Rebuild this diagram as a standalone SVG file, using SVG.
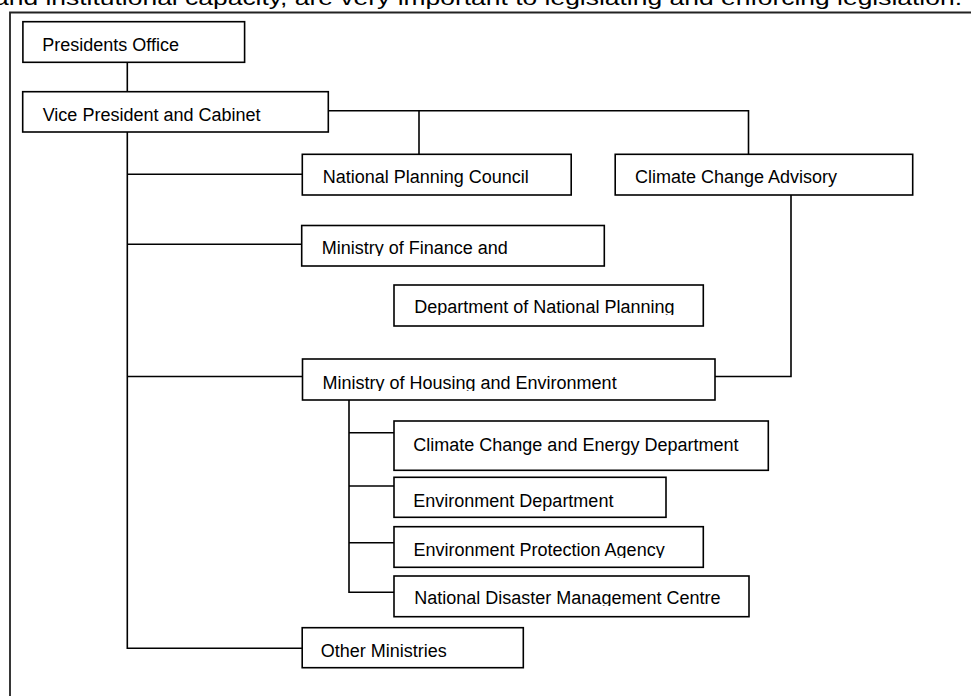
<svg xmlns="http://www.w3.org/2000/svg" width="971" height="696" viewBox="0 0 971 696">
<style>
.box{fill:#fff;stroke:#000;stroke-width:1.6}
.t{font-family:"Liberation Sans",Arial,sans-serif;font-size:18px;fill:#000}
.c{fill:none;stroke:#000;stroke-width:1.6}
.frame{fill:none;stroke:#222;stroke-width:1.8}
</style>
<defs>
<clipPath id="clipMoF"><rect x="300" y="224" width="306" height="32"/></clipPath>
<clipPath id="clipDNP"><rect x="392" y="284" width="313" height="31"/></clipPath>
<clipPath id="clipMHE"><rect x="300" y="358" width="417" height="33"/></clipPath>
<clipPath id="clipEPA"><rect x="392" y="525" width="313" height="33"/></clipPath>
<clipPath id="clipNDMC"><rect x="392" y="575" width="359" height="31"/></clipPath>
</defs>
<text class="t" x="-6" y="4.5" style="font-size:21px" textLength="968" lengthAdjust="spacingAndGlyphs">and institutional capacity, are very important to legislating and enforcing legislation.</text>
<path class="frame" d="M10,696 V12.5 H971"/>
<g id="connectors">
<path class="c" d="M127.3,62.3 V91.7"/>
<path class="c" d="M127.3,132 V648.3 H302"/>
<path class="c" d="M127.3,174.3 H302.3"/>
<path class="c" d="M127.3,244.3 H301.7"/>
<path class="c" d="M127.3,376.5 H302.5"/>
<path class="c" d="M328.3,110.7 H748.5 V154"/>
<path class="c" d="M419,110.7 V154.3"/>
<path class="c" d="M791,195 V376.5 H715"/>
<path class="c" d="M349,400 V592.3 H394"/>
<path class="c" d="M349,432.7 H394"/>
<path class="c" d="M349,486 H394"/>
<path class="c" d="M349,542.7 H394"/>
</g>
<g id="presidents-office">
<rect class="box" x="22.9" y="21.7" width="221.7" height="40.6"/>
<text class="t" x="42.3" y="50.7">Presidents Office</text>
</g>
<g id="vice-president">
<rect class="box" x="22.7" y="91.7" width="305.6" height="40.3"/>
<text class="t" x="42.7" y="121">Vice President and Cabinet</text>
</g>
<g id="national-planning-council">
<rect class="box" x="302.3" y="154.3" width="268.9" height="40.7"/>
<text class="t" x="322.7" y="182.5">National Planning Council</text>
</g>
<g id="climate-change-advisory">
<rect class="box" x="615.2" y="154.3" width="297.5" height="40.7"/>
<text class="t" x="635" y="182.5">Climate Change Advisory</text>
</g>
<g id="ministry-of-finance">
<rect class="box" x="301.7" y="225.5" width="302.6" height="40.5"/>
<text class="t" x="321.7" y="254.3" clip-path="url(#clipMoF)">Ministry of Finance and</text>
</g>
<g id="department-national-planning">
<rect class="box" x="394" y="285" width="309.3" height="41"/>
<text class="t" x="414.3" y="313.3" clip-path="url(#clipDNP)">Department of National Planning</text>
</g>
<g id="ministry-housing-environment">
<rect class="box" x="302.5" y="359" width="412.5" height="41"/>
<text class="t" x="322.5" y="388.5" clip-path="url(#clipMHE)">Ministry of Housing and Environment</text>
</g>
<g id="climate-change-energy">
<rect class="box" x="394" y="421" width="374.3" height="49.3"/>
<text class="t" x="413.3" y="451">Climate Change and Energy Department</text>
</g>
<g id="environment-department">
<rect class="box" x="394" y="477.3" width="272" height="40"/>
<text class="t" x="413.3" y="506.7">Environment Department</text>
</g>
<g id="environment-protection-agency">
<rect class="box" x="394" y="526.7" width="309.3" height="40.6"/>
<text class="t" x="413.5" y="556" clip-path="url(#clipEPA)">Environment Protection Agency</text>
</g>
<g id="ndmc">
<rect class="box" x="394" y="576" width="355" height="40.7"/>
<text class="t" x="414.3" y="604.3" clip-path="url(#clipNDMC)">National Disaster Management Centre</text>
</g>
<g id="other-ministries">
<rect class="box" x="302.2" y="627.7" width="221.1" height="40"/>
<text class="t" x="320.7" y="656.7">Other Ministries</text>
</g>
</svg>
